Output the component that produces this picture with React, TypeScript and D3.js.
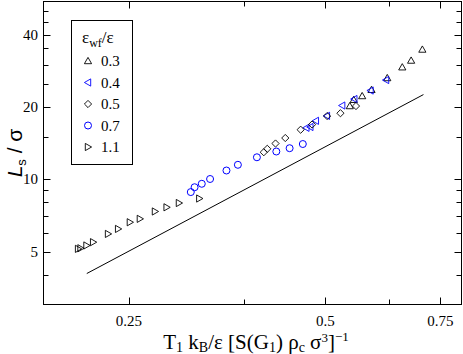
import * as d3 from 'd3';

// values (log-log axes)
const xMajor = [0.25, 0.5, 0.75];
const xMinor = [0.375, 0.625];
const yMajor = [5, 10, 20, 40];
const yMinor = [4, 6, 7, 8, 9, 15, 25, 30, 35, 45, 50];

const x03 = [0.5449, 0.5526, 0.5692, 0.5883, 0.6219, 0.6557, 0.6765, 0.7038];
const y03 = [20.16, 21.4, 22.19, 23.55, 26.37, 29.24, 31.18, 34.65];

const x04 = [0.4675, 0.4741, 0.4834, 0.5026, 0.5304, 0.5536, 0.5862, 0.6192];
const y04 = [16.36, 16.49, 17.5, 18.35, 20.26, 21.56, 23.39, 25.87];

const x05 = [0.4023, 0.4073, 0.4193, 0.434, 0.4582, 0.477, 0.503, 0.5272, 0.5569];
const y05 = [12.95, 13.38, 14.08, 14.84, 16.07, 16.89, 18.32, 18.82, 20.16];

const x07 = [0.311, 0.3152, 0.3233, 0.3329, 0.3527, 0.3672, 0.3927, 0.4205, 0.4407, 0.4617];
const y07 = [8.84, 9.26, 9.57, 10.02, 10.87, 11.48, 12.34, 13.04, 13.46, 14.01];

const x11 = [0.209, 0.2108, 0.2153, 0.2204, 0.2323, 0.2407, 0.2509, 0.2599, 0.2741, 0.2856, 0.2983, 0.3205];
const y11 = [5.13, 5.16, 5.3, 5.47, 5.92, 6.21, 6.62, 6.84, 7.34, 7.64, 7.96, 8.31];

const fitX = [0.2155, 0.7065];
const fitY = [4.05, 22.5];

const legendLabels = ['0.3', '0.4', '0.5', '0.7', '1.1'];

type Shape = 'up' | 'left' | 'diamond' | 'circle' | 'right';

const series: { xs: number[]; ys: number[]; shape: Shape; color: string }[] = [
  { xs: x03, ys: y03, shape: 'up', color: '#000' },
  { xs: x04, ys: y04, shape: 'left', color: '#0000ff' },
  { xs: x05, ys: y05, shape: 'diamond', color: '#000' },
  { xs: x07, ys: y07, shape: 'circle', color: '#0000ff' },
  { xs: x11, ys: y11, shape: 'right', color: '#000' },
];

const W = 463;
const H = 354;
const left = 43.5, right = 461.5, top = 1.5, bottom = 304.5;

function Marker({ cx, cy, shape, color }: { cx: number; cy: number; shape: Shape; color: string }) {
  const s = 3.6;
  let d = '';
  if (shape === 'up') d = `M${cx},${cy - s}L${cx + s},${cy + s * 0.75}L${cx - s},${cy + s * 0.75}Z`;
  if (shape === 'left') d = `M${cx - s},${cy}L${cx + s * 0.75},${cy - s}L${cx + s * 0.75},${cy + s}Z`;
  if (shape === 'right') d = `M${cx + s},${cy}L${cx - s * 0.75},${cy - s}L${cx - s * 0.75},${cy + s}Z`;
  if (shape === 'diamond') d = `M${cx},${cy - s}L${cx + s},${cy}L${cx},${cy + s}L${cx - s},${cy}Z`;
  if (shape === 'circle') return <circle cx={cx} cy={cy} r={3.5} fill="none" stroke={color} strokeWidth={1} />;
  return <path d={d} fill="none" stroke={color} strokeWidth={0.9} />;
}

export default function App() {
  const x = d3.scaleLog().domain([0.185, 0.808]).range([left, right]);
  const y = d3.scaleLog().domain([3.01, 54.9]).range([bottom, top]);

  const line = d3.line<number>()
    .x((_, i) => x(fitX[i]))
    .y((d) => y(d));

  const serif = "'Liberation Serif', 'DejaVu Serif', serif";

  return (
    <svg width={W} height={H} style={{ position: 'absolute', left: 0, top: 0, background: '#fff' }} fontFamily={serif}>
      {/* ticks on all four sides, pointing inward */}
      {xMajor.concat(xMinor).map((t) => {
        const len = xMajor.includes(t) ? 7 : 5;
        const px = Math.round(x(t)) + 0.5;
        return (
          <g key={'xt' + t} stroke="#000" strokeWidth={1}>
            <line x1={px} x2={px} y1={bottom} y2={bottom - len} />
            <line x1={px} x2={px} y1={top} y2={top + len} />
          </g>
        );
      })}
      {yMajor.concat(yMinor).map((t) => {
        const len = yMajor.includes(t) ? 7 : 5;
        const py = Math.round(y(t)) + 0.5;
        if (py > bottom) return null;
        return (
          <g key={'yt' + t} stroke="#000" strokeWidth={1}>
            <line x1={left} x2={left + len} y1={py} y2={py} />
            <line x1={right} x2={right - len} y1={py} y2={py} />
          </g>
        );
      })}
      <rect x={left} y={top} width={right - left} height={bottom - top} fill="none" stroke="#000" strokeWidth={1} />

      {xMajor.map((t) => (
        <text key={'xl' + t} x={x(t)} y={326} textAnchor="middle" fontSize={15}>{String(t)}</text>
      ))}
      {yMajor.map((t) => (
        <text key={'yl' + t} x={38} y={y(t) + 5} textAnchor="end" fontSize={15}>{String(t)}</text>
      ))}

      {/* fitted line */}
      <path d={line(fitY) || ''} fill="none" stroke="#000" strokeWidth={1} />

      {series.map((s, si) =>
        s.xs.map((v, i) => (
          <Marker key={si + '-' + i} cx={x(v)} cy={y(s.ys[i])} shape={s.shape} color={s.color} />
        ))
      )}

      {/* legend */}
      <rect x={71.5} y={20.5} width={61} height={144} fill="#fff" stroke="#000" strokeWidth={1} />
      <text x={82} y={43} fontSize={17}>
        ε<tspan fontSize={12} dy={4}>wf</tspan><tspan dy={-4}>/ε</tspan>
      </text>
      {legendLabels.map((lab, i) => (
        <g key={'lg' + lab}>
          <Marker cx={88} cy={61 + i * 21.5} shape={series[i].shape} color={series[i].color} />
          <text x={101} y={66 + i * 21.5} fontSize={15}>{lab}</text>
        </g>
      ))}

      {/* axis titles */}
      <text transform="translate(22,153) rotate(-90)" textAnchor="middle" fontSize={21} fontFamily="'Liberation Sans', Arial, sans-serif">
        <tspan fontStyle="italic">L</tspan><tspan fontSize={13} dy={4}>s</tspan><tspan dy={-4}> / σ</tspan>
      </text>
      <text x={256} y={349} textAnchor="middle" fontSize={21}>
        T<tspan fontSize={14} dy={3}>1</tspan><tspan dy={-3}> k</tspan><tspan fontSize={14} dy={3}>B</tspan><tspan dy={-3}>/ε [S(G</tspan><tspan fontSize={14} dy={3}>1</tspan><tspan dy={-3}>) ρ</tspan><tspan fontSize={14} dy={3}>c</tspan><tspan dy={-3}> σ</tspan><tspan fontSize={13} dy={-7}>3</tspan><tspan dy={7}>]</tspan><tspan fontSize={13} dy={-8}>−1</tspan>
      </text>
    </svg>
  );
}
